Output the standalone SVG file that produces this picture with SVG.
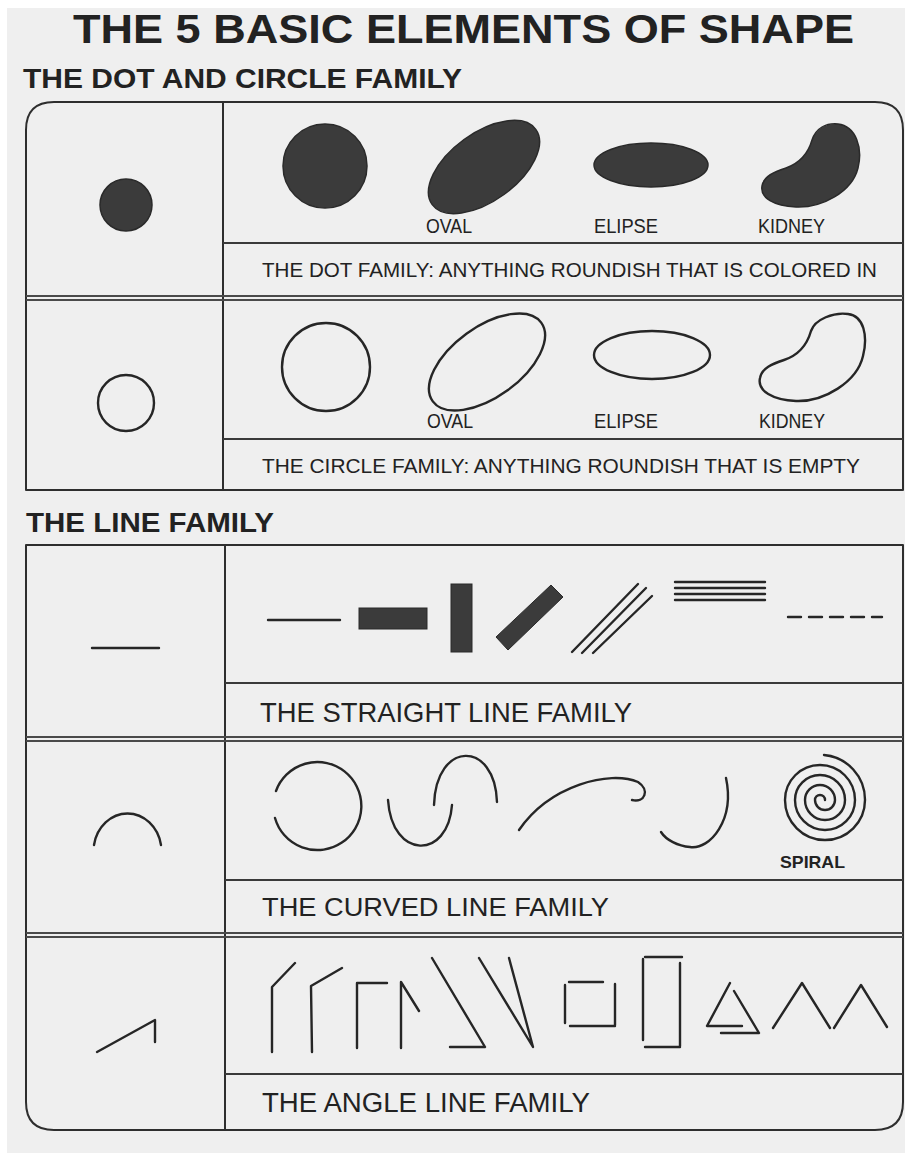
<svg xmlns="http://www.w3.org/2000/svg" width="905" height="1153" viewBox="0 0 905 1153">
<style>
.ln{fill:none;stroke:#2e2e2e;stroke-width:2;stroke-linecap:round;stroke-linejoin:round}
.sep{fill:none;stroke:#3a3a3a;stroke-width:2}
.dbl{fill:none;stroke:#4a4a4a;stroke-width:2.2}
.sh{fill:none;stroke:#262626;stroke-width:2.4;stroke-linecap:round;stroke-linejoin:round}
.dot{fill:#3b3b3b;stroke:#2a2a2a;stroke-width:1.5}
.blk{fill:#3b3b3b;stroke:#2a2a2a;stroke-width:1}
.t{font-family:"Liberation Sans",Arial,sans-serif;fill:#222}
.hd{font-weight:bold}
</style>
<rect width="905" height="1153" fill="#ffffff"/>
<rect x="7" y="8" width="898" height="1145" fill="#efefef"/>

<g id="titles">
<text class="t hd" x="73" y="43" font-size="40" textLength="781" lengthAdjust="spacingAndGlyphs">THE 5 BASIC ELEMENTS OF SHAPE</text>
<text class="t hd" x="23" y="88" font-size="28" textLength="439" lengthAdjust="spacingAndGlyphs">THE DOT AND CIRCLE FAMILY</text>
<text class="t hd" x="26" y="532" font-size="27" textLength="248" lengthAdjust="spacingAndGlyphs">THE LINE FAMILY</text>
</g>

<g id="box-dot-circle">
<path class="ln" d="M 26 490 L 26 130 Q 26 102 54 102 L 875 102 Q 903 102 903 130 L 903 490 Z"/>
<line class="ln" x1="223" y1="102" x2="223" y2="490"/>
<line class="sep" x1="223" y1="243" x2="903" y2="243"/>
<line class="dbl" x1="26" y1="296" x2="903" y2="296"/>
<line class="dbl" x1="26" y1="300" x2="903" y2="300"/>
<line class="sep" x1="223" y1="439" x2="903" y2="439"/>
</g>

<g id="dot-family">
<circle class="dot" cx="126" cy="205" r="26"/>
<ellipse class="dot" cx="325" cy="166" rx="42" ry="42"/>
<ellipse class="dot" cx="0" cy="0" rx="64" ry="34" transform="translate(484,167) rotate(-36)"/>
<ellipse class="dot" cx="651" cy="165" rx="57" ry="22"/>
<path class="dot" d="M 838 124 C 856 126 863 148 858 168 C 852 192 822 208 796 207 C 774 206 760 198 762 186 C 764 176 774 172 786 168 C 800 163 808 154 812 140 C 816 128 826 123 838 124 Z"/>
<text class="t" x="426" y="233" font-size="19.5" textLength="46" lengthAdjust="spacingAndGlyphs">OVAL</text>
<text class="t" x="594" y="233" font-size="19.5" textLength="64" lengthAdjust="spacingAndGlyphs">ELIPSE</text>
<text class="t" x="758" y="233" font-size="19.5" textLength="67" lengthAdjust="spacingAndGlyphs">KIDNEY</text>
<text class="t" x="262" y="277" font-size="21" textLength="615" lengthAdjust="spacingAndGlyphs">THE DOT FAMILY: ANYTHING ROUNDISH THAT IS COLORED IN</text>
</g>

<g id="circle-family">
<circle class="sh" cx="126" cy="403" r="28"/>
<ellipse class="sh" cx="326" cy="367" rx="44" ry="44"/>
<ellipse class="sh" cx="0" cy="0" rx="67" ry="35" transform="translate(487,362) rotate(-36)"/>
<ellipse class="sh" cx="652" cy="355" rx="58" ry="24"/>
<path class="sh" d="M 848 314 C 864 316 868 336 863 356 C 857 382 824 402 796 401 C 773 400 757 391 760 378 C 762 368 772 364 784 360 C 799 355 807 345 811 331 C 815 319 834 312 848 314 Z"/>
<text class="t" x="427" y="428" font-size="19.5" textLength="46" lengthAdjust="spacingAndGlyphs">OVAL</text>
<text class="t" x="594" y="428" font-size="19.5" textLength="64" lengthAdjust="spacingAndGlyphs">ELIPSE</text>
<text class="t" x="759" y="428" font-size="19.5" textLength="66" lengthAdjust="spacingAndGlyphs">KIDNEY</text>
<text class="t" x="262" y="473" font-size="21" textLength="598" lengthAdjust="spacingAndGlyphs">THE CIRCLE FAMILY: ANYTHING ROUNDISH THAT IS EMPTY</text>
</g>

<g id="box-line">
<path class="ln" d="M 26 545 L 903 545 L 903 1102 Q 903 1130 875 1130 L 54 1130 Q 26 1130 26 1102 Z"/>
<line class="ln" x1="225" y1="545" x2="225" y2="1130"/>
<line class="sep" x1="225" y1="683" x2="903" y2="683"/>
<line class="dbl" x1="26" y1="737" x2="903" y2="737"/>
<line class="dbl" x1="26" y1="741" x2="903" y2="741"/>
<line class="sep" x1="225" y1="880" x2="903" y2="880"/>
<line class="dbl" x1="26" y1="933" x2="903" y2="933"/>
<line class="dbl" x1="26" y1="937" x2="903" y2="937"/>
<line class="sep" x1="225" y1="1074" x2="903" y2="1074"/>
</g>

<g id="straight-line-family">
<line class="sh" x1="92" y1="648" x2="159" y2="648"/>
<line class="sh" x1="268" y1="620" x2="340" y2="620" stroke-width="3"/>
<rect class="blk" x="359" y="608" width="68" height="21"/>
<rect class="blk" x="451" y="584" width="21" height="68"/>
<polygon class="blk" points="496,637 508,650 563,597 551,585"/>
<line class="sh" x1="572" y1="652" x2="638" y2="584"/>
<line class="sh" x1="582" y1="653" x2="646" y2="588"/>
<line class="sh" x1="593" y1="653" x2="652" y2="596"/>
<line class="sh" x1="675" y1="582" x2="765" y2="582" stroke-width="3" stroke-linecap="butt"/>
<line class="sh" x1="675" y1="588" x2="765" y2="588" stroke-width="3" stroke-linecap="butt"/>
<line class="sh" x1="675" y1="594" x2="765" y2="594" stroke-width="3" stroke-linecap="butt"/>
<line class="sh" x1="675" y1="600" x2="765" y2="600" stroke-width="3" stroke-linecap="butt"/>
<line class="sh" x1="788" y1="617" x2="882" y2="617" stroke-width="3" stroke-linecap="butt" stroke-dasharray="13 8"/>
<text class="t" x="260" y="722" font-size="28" textLength="372" lengthAdjust="spacingAndGlyphs">THE STRAIGHT LINE FAMILY</text>
</g>

<g id="curved-line-family">
<path class="sh" d="M 94 845 A 34 38 0 0 1 161 845"/>
<path class="sh" d="M 276 791 A 44 44 0 1 1 275 818"/>
<path class="sh" d="M 388 800 C 392 860 448 860 452 805"/>
<path class="sh" d="M 434 805 C 436 740 495 740 497 802"/>
<path class="sh" d="M 519 830 C 550 785 610 770 638 782 C 650 790 645 803 632 800"/>
<path class="sh" d="M 726 778 C 735 820 710 850 690 847 C 678 846 666 840 661 832"/>
<path class="sh" d="M 825 800 A 5 5 0 0 0 815 800 A 10 10 0 0 0 835 800 A 15 15 0 0 0 805 800 A 20 20 0 0 0 845 800 A 25 25 0 0 0 795 800 A 30 30 0 0 0 855 800 A 35 35 0 0 0 785 800 A 40 40 0 0 0 865 800 A 45 45 0 0 0 824 755"/>
<text class="t hd" x="780" y="868" font-size="17" textLength="65" lengthAdjust="spacingAndGlyphs">SPIRAL</text>
<text class="t" x="262" y="916" font-size="26" textLength="347" lengthAdjust="spacingAndGlyphs">THE CURVED LINE FAMILY</text>
</g>

<g id="angle-line-family">
<polyline class="sh" points="97,1052 155,1020 155,1042"/>
<polyline class="sh" points="272,1052 272,987 295,963"/>
<polyline class="sh" points="312,1052 311,986 342,968"/>
<polyline class="sh" points="357,1048 357,983 387,983"/>
<polyline class="sh" points="401,1048 401,982 419,1011"/>
<polyline class="sh" points="432,958 485,1047 450,1047"/>
<polyline class="sh" points="479,958 533,1047 509,958"/>
<line class="sh" x1="569" y1="982" x2="603" y2="982"/>
<line class="sh" x1="565" y1="985" x2="565" y2="1023"/>
<line class="sh" x1="570" y1="1026" x2="615" y2="1026"/>
<line class="sh" x1="615" y1="984" x2="615" y2="1025"/>
<line class="sh" x1="645" y1="957" x2="682" y2="957"/>
<line class="sh" x1="643" y1="959" x2="643" y2="1040"/>
<line class="sh" x1="645" y1="1047" x2="680" y2="1047"/>
<line class="sh" x1="680" y1="963" x2="680" y2="1046"/>
<polyline class="sh" points="730,983 707,1026 742,1026"/>
<polyline class="sh" points="734,991 759,1033 721,1033"/>
<polyline class="sh" points="773,1028 802,983 830,1028"/>
<polyline class="sh" points="834,1028 861,985 887,1027"/>
<text class="t" x="262" y="1112" font-size="27" textLength="328" lengthAdjust="spacingAndGlyphs">THE ANGLE LINE FAMILY</text>
</g>
</svg>
